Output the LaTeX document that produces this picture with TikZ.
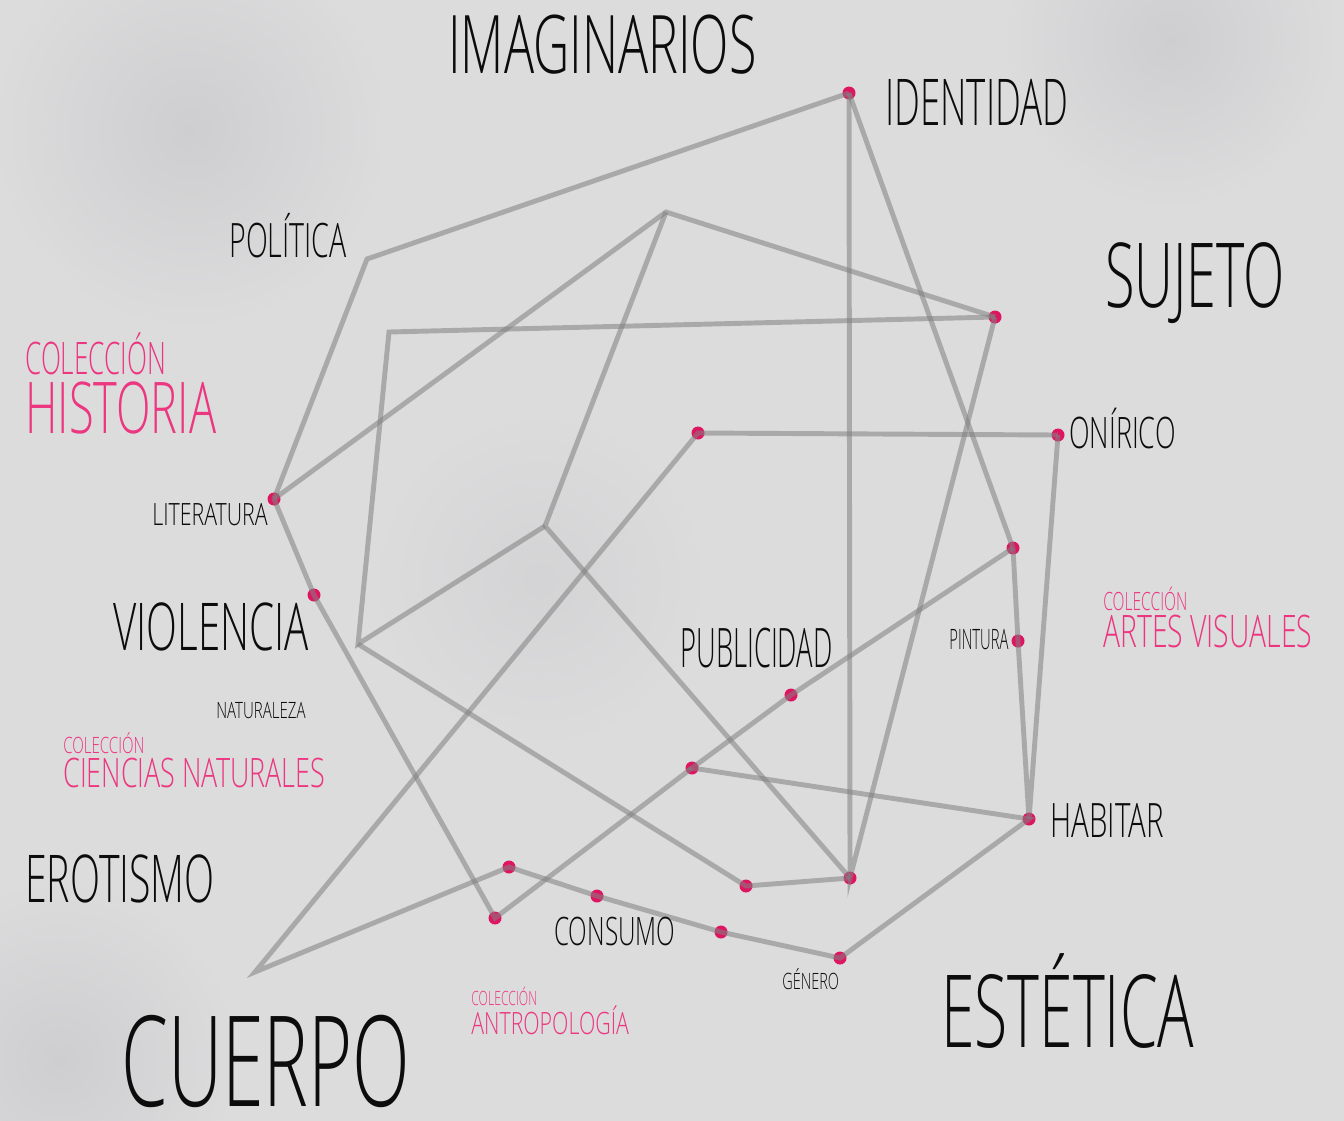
\documentclass[tikz,border=0pt]{standalone}
\usepackage{graphicx}
\usepackage{fontspec}
\setmainfont{Open Sans}[UprightFont=* Light,FakeStretch=0.62]
\definecolor{paper}{RGB}{220,220,221}
\definecolor{smudge}{RGB}{206,206,208}
\definecolor{ink}{RGB}{12,12,12}
\definecolor{rose}{RGB}{236,54,128}
\definecolor{pin}{RGB}{222,22,98}
\newcommand{\fsz}[1]{\fontsize{#1}{#1}\selectfont}
\newcommand{\sq}[2]{\scalebox{#1}[1]{#2}}

\begin{document}
\begin{tikzpicture}[x=0.02cm,y=-0.02cm,
  link/.style={draw=gray,opacity=0.55,line width=2.8pt},
  dot/.style={circle,fill=pin,inner sep=0pt,minimum size=0.26cm},
  word/.style={anchor=base west,inner sep=0pt,text=ink},
  coll/.style={anchor=base west,inner sep=0pt,text=rose}]
\useasboundingbox (0,0) rectangle (1344,1120);
\clip (0,0) rectangle (1344,1120);
\fill[paper] (-10,-10) rectangle (1354,1130);
\shade[inner color=smudge,outer color=paper] (190,130) circle (200);
\shade[inner color=smudge,outer color=paper] (1170,40) circle (170);
\shade[inner color=smudge,outer color=paper] (60,1060) circle (180);
\shade[inner color=smudge!60!paper,outer color=paper] (540,580) circle (170);

\coordinate (cPol) at (367,259);
\coordinate (cTop) at (666,212);
\coordinate (cBox) at (389,332);
\coordinate (cV) at (358,644);
\coordinate (cX) at (545,526);
\coordinate (cCue) at (255,972);

\node[dot] (pIdent) at (849,93) {};
\node[dot] (pSuj) at (995,317) {};
\node[dot] (pOnir) at (1058,435) {};
\node[dot] (pHorz) at (698,433) {};
\node[dot] (pLit) at (274,499) {};
\node[dot] (pViol) at (314,595) {};
\node[dot] (pPin1) at (1013,548) {};
\node[dot] (pPint) at (1018,641) {};
\node[dot] (pPub) at (791,695) {};
\node[dot] (pMid) at (692,768) {};
\node[dot] (pHab) at (1029,819) {};
\node[dot] (pA) at (746,886) {};
\node[dot] (pB) at (850,878) {};
\node[dot] (pC) at (509,867) {};
\node[dot] (pD) at (495,918) {};
\node[dot] (pCons) at (597,896) {};
\node[dot] (pE) at (721,932) {};
\node[dot] (pGen) at (840,958) {};

\draw[link] (pIdent.center) -- (cPol) -- (pLit.center) -- (pViol.center) -- (pD.center) -- (pMid.center);
\draw[link] (pLit.center) -- (cTop) -- (pSuj.center);
\draw[link] (pSuj.center) -- (cBox) -- (cV) -- (cX);
\draw[link] (cTop) -- (cX) -- (pB.center);
\draw[link] (cV) -- (pA.center) -- (pB.center);
\draw[link] (pIdent.center) -- (pB.center) -- (pSuj.center);
\draw[link] (pIdent.center) -- (pPin1.center) -- (pPint.center) -- (pHab.center) -- (pOnir.center);
\draw[link] (pOnir.center) -- (pHorz.center) -- (cCue) -- (pC.center) -- (pCons.center) -- (pE.center) -- (pGen.center) -- (pHab.center) -- (pMid.center) -- (pPub.center) -- (pPin1.center);

\node[word,font=\fsz{46}] (tImag) at (448,73) {IMAGINARIOS};
\node[word,font=\fsz{36.7}] (tIdent) at (885,125) {\sq{0.915}{IDENTIDAD}};
\node[word,font=\fsz{51}] (tSuj) at (1105,307) {\sq{0.97}{SUJETO}};
\node[word,font=\fsz{27}] (tPol) at (229,257) {\sq{0.97}{POLÍTICA}};
\node[word,font=\fsz{24.7}] (tOnir) at (1069,448) {ONÍRICO};
\node[word,font=\fsz{17.5}] (tLit) at (152,525) {\sq{1.12}{LITERATURA}};
\node[word,font=\fsz{37.5}] (tViol) at (113,650) {\sq{0.985}{VIOLENCIA}};
\node[word,font=\fsz{16}] (tPint) at (949,649) {\sq{0.85}{PINTURA}};
\node[word,font=\fsz{31}] (tPub) at (680,667) {\sq{0.81}{PUBLICIDAD}};
\node[word,font=\fsz{12.8}] (tNat) at (216,718) {\sq{1.08}{NATURALEZA}};
\node[word,font=\fsz{27}] (tHab) at (1050,837) {HABITAR};
\node[word,font=\fsz{37.5}] (tErot) at (25,902) {\sq{0.96}{EROTISMO}};
\node[word,font=\fsz{22.3}] (tCons) at (554,945) {CONSUMO};
\node[word,font=\fsz{12.8}] (tGen) at (782,989) {\sq{1.04}{GÉNERO}};
\node[word,font=\fsz{57.4}] (tEst) at (941,1047) {\sq{0.97}{ESTÉTICA}};
\node[word,font=\fsz{71.7}] (tCuer) at (121,1106) {\sq{0.965}{CUERPO}};

\node[coll,font=\fsz{25.5}] (cHist) at (25,374) {\sq{0.94}{COLECCIÓN}};
\node[coll,font=\fsz{40.6}] (tHist) at (25,433) {\sq{1.02}{HISTORIA}};
\node[coll,font=\fsz{14.3}] (cArt) at (1103,610) {COLECCIÓN};
\node[coll,font=\fsz{25.5}] (tArt) at (1103,647) {\sq{1.02}{ARTES VISUALES}};
\node[coll,font=\fsz{12.8}] (cCien) at (63,753) {\sq{1.08}{COLECCIÓN}};
\node[coll,font=\fsz{23.1}] (tCien) at (63,787) {\sq{1.07}{CIENCIAS NATURALES}};
\node[coll,font=\fsz{11.2}] (cAnt) at (471,1005) {COLECCIÓN};
\node[coll,font=\fsz{17.5}] (tAnt) at (471,1034) {\sq{1.12}{ANTROPOLOGÍA}};
\end{tikzpicture}
\end{document}
